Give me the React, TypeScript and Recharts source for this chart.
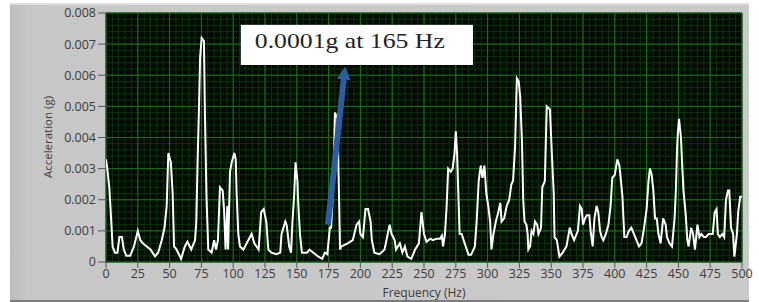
import {
	LineChart,
	Line,
	XAxis,
	YAxis,
	CartesianGrid,
	ReferenceArea,
	ReferenceLine,
} from "recharts";

// Spectrum
const freqHz = [
	0, 1, 2.6, 4, 5.2, 7, 9, 10.5, 12.5, 14, 16, 19, 22, 25, 27, 29, 32, 35, 38.5, 41, 43.8,
	46, 47.7, 49, 51, 52.4, 53.5, 55.5, 59, 62, 64, 67, 70, 71, 72, 73, 74, 75.2, 77, 77.8,
	79, 80.4, 83, 85, 86.5, 88, 89.6, 91.7, 92.8, 94, 95.4, 96, 97.5, 98.8, 100.9, 102,
	102.7, 104, 105.3, 108, 110.6, 114.5, 116.6, 120, 122, 124, 126, 127.6, 130, 134, 137,
	138, 141, 142, 144, 145.5, 146.6, 148, 149, 150.5, 151, 152.5, 154, 158, 160, 163, 167,
	170, 172, 174, 176, 177, 178.7, 180, 182, 183, 184, 185, 190, 194, 197, 199, 200, 202,
	204, 206, 208, 209, 211, 215, 219, 223, 224.5, 227, 228, 231, 233, 235, 237, 240, 243,
	246, 248, 250, 252, 255, 257, 260, 262.6, 264, 265, 266.5, 267.8, 269, 271, 272.5, 274,
	275, 276, 277, 278, 279.6, 282, 285, 287, 290, 291.4, 293, 294.6, 296, 297.5, 299, 300.5,
	302, 303, 304.6, 306.5, 308.4, 310, 311, 313, 315, 317, 318.7, 320, 321.6, 323, 324.5,
	325.6, 327, 328, 329, 330.5, 331.5, 332, 333.4, 334.6, 336, 337.3, 339, 340, 342, 343,
	345, 346.5, 349, 350.5, 352, 352.6, 354.4, 356.5, 359, 362, 364.6, 366, 368, 371, 372.6,
	374, 375, 376.6, 378, 380, 381, 382.6, 384, 385.7, 387, 388.4, 389.7, 391, 393, 395,
	396.7, 398, 400, 402, 403.6, 404.6, 406, 407.5, 409.3, 411, 413, 415, 417, 419, 421, 423,
	425, 426.5, 427.6, 429, 430.3, 431.6, 433, 434.3, 436, 438, 440, 441, 443, 445, 447, 448,
	449, 449.5, 450.5, 452, 453, 454, 455.8, 457, 458, 460, 461.5, 463, 465, 466.5, 468, 470,
	471.6, 473.7, 475, 477, 478.5, 480, 481, 482.6, 484.5, 486, 487.4, 489, 490, 491.4, 493,
	494, 496, 497, 498.6, 500,
];

const accelG = [
	0.0033, 0.003, 0.0024, 0.0014, 0.0005, 0.0003, 0.0003, 0.0008, 0.0008, 0.0004, 0.0002,
	0.0002, 0.0005, 0.001, 0.0007, 0.0006, 0.0005, 0.0004, 0.00018, 0.0003, 0.0007, 0.0011,
	0.0018, 0.0035, 0.0032, 0.0022, 0.0005, 0.0004, 0.0001, 0.0005, 0.00065, 0.0004, 0.0007,
	0.0013, 0.0032, 0.0048, 0.0066, 0.0072, 0.0071, 0.0047, 0.0021, 0.0004, 0.0003, 0.0007,
	0.0004, 0.0007, 0.0024, 0.0023, 0.0017, 0.0004, 0.0018, 0.0004, 0.0029, 0.0032, 0.0035,
	0.0033, 0.0022, 0.0009, 0.0005, 0.0004, 0.0006, 0.0009, 0.0006, 0.0004, 0.0016, 0.0017,
	0.0013, 0.0004, 0.0003, 0.00025, 0.0003, 0.0009, 0.0013, 0.0012, 0.0005, 0.0003, 0.0013,
	0.0022, 0.0032, 0.0026, 0.002, 0.0009, 0.0003, 0.0003, 0.0004, 0.0003, 0.00017, 0.0001,
	0.0003, 0.00025, 0.0011, 0.0011, 0.0025, 0.0048, 0.0046, 0.0025, 0.0004, 0.0005, 0.0006,
	0.0007, 0.0012, 0.0013, 0.0009, 0.0008, 0.0017, 0.0017, 0.0013, 0.0007, 0.0003, 0.00025,
	0.0004, 0.0012, 0.0009, 0.0007, 0.0004, 0.0006, 0.0003, 0.0005, 0.00017, 0.0001, 0.0004,
	0.0006, 0.0016, 0.0009, 0.00065, 0.00075, 0.0007, 0.00075, 0.00075, 0.00085, 0.0005,
	0.0009, 0.0018, 0.003, 0.0029, 0.003, 0.0035, 0.0042, 0.0035, 0.0022, 0.0009, 0.0009,
	0.0006, 0.00023, 0.00023, 0.0005, 0.0013, 0.0026, 0.0031, 0.0027, 0.0031, 0.0022, 0.0018,
	0.0013, 0.0004, 0.0009, 0.0013, 0.0016, 0.0019, 0.0013, 0.0014, 0.0018, 0.002, 0.0025,
	0.0026, 0.0037, 0.0059, 0.0058, 0.0053, 0.0039, 0.002, 0.0013, 0.0012, 0.0009, 0.0004,
	0.0005, 0.001, 0.0009, 0.0013, 0.0012, 0.0009, 0.0011, 0.0024, 0.0026, 0.005, 0.0049,
	0.0035, 0.0022, 0.0008, 0.0007, 0.00017, 0.0003, 0.0005, 0.0011, 0.0009, 0.0007, 0.001,
	0.0018, 0.0017, 0.0012, 0.0014, 0.0015, 0.0015, 0.001, 0.0005, 0.0014, 0.0018, 0.0016,
	0.001, 0.0008, 0.0007, 0.0009, 0.0012, 0.0018, 0.0027, 0.0028, 0.0033, 0.0031, 0.0027,
	0.0021, 0.0008, 0.0008, 0.001, 0.0011, 0.0009, 0.0007, 0.0005, 0.0006, 0.0011, 0.0017,
	0.0026, 0.003, 0.0028, 0.0023, 0.0014, 0.0014, 0.0009, 0.0006, 0.0014, 0.0012, 0.0008,
	0.0006, 0.0005, 0.0014, 0.0023, 0.0037, 0.0041, 0.0046, 0.004, 0.0031, 0.0023, 0.0015,
	0.0007, 0.0005, 0.0011, 0.0009, 0.0004, 0.0012, 0.0008, 0.0009, 0.0008, 0.0008, 0.0009,
	0.0009, 0.0009, 0.0016, 0.0017, 0.0009, 0.0008, 0.0009, 0.0008, 0.002, 0.0023, 0.0023,
	0.0011, 0.0009, 0.00017, 0.0009, 0.0016, 0.0021, 0.0021,
];

const freqTicks = [0, 25, 50, 75, 100, 125, 150, 175, 200, 225, 250, 275, 300, 325, 350, 375, 400, 425, 450, 475, 500];
const accelTicks = [0, 0.001, 0.002, 0.003, 0.004, 0.005, 0.006, 0.007, 0.008];

// annotation
const noteText = "0.0001g at 165 Hz";
const noteBox = { x1: 106, x2: 288.5, y1: 0.00633, y2: 0.00762 };
const noteArrow = [
	{ x: 174.5, y: 0.0012 },
	{ x: 188, y: 0.00628 },
];

const data = freqHz.map((f, i) => ({ f, a: accelG[i] }));

// minor grid: 5 per major division
const minorX: number[] = [];
for (let i = 0; i <= 100; i++) minorX.push(i * 5);
const minorY: number[] = [];
for (let i = 0; i <= 40; i++) minorY.push(+(i * 0.0002).toFixed(4));

const FONT = "'Open Sans', sans-serif";

const Arrow = (props: any) => {
	const { x1, y1, x2, y2 } = props;
	const dx = x2 - x1;
	const dy = y2 - y1;
	const len = Math.hypot(dx, dy) || 1;
	const ux = dx / len;
	const uy = dy / len;
	const px = -uy;
	const py = ux;
	const hw = 3;
	const headW = 7;
	const headL = 13;
	const bx = x2 - ux * headL;
	const by = y2 - uy * headL;
	const pts = [
		[x1 + px * hw, y1 + py * hw],
		[bx + px * hw, by + py * hw],
		[bx + px * headW, by + py * headW],
		[x2, y2],
		[bx - px * headW, by - py * headW],
		[bx - px * hw, by - py * hw],
		[x1 - px * hw, y1 - py * hw],
	]
		.map((p) => p.join(","))
		.join(" ");
	return <polygon points={pts} fill="#2d5d9f" />;
};

const NoteBox = (props: any) => {
	const { x, y, width, height } = props;
	return (
		<g>
			<rect x={x} y={y} width={width} height={height} fill="#ffffff" />
			<text
				x={x + 14}
				y={y + 23.5}
				fontFamily="'Liberation Serif', 'Times New Roman', serif"
				fontSize={21}
				fill="#222"
				textLength={190}
				lengthAdjust="spacingAndGlyphs"
			>
				{noteText}
			</text>
		</g>
	);
};

const App = () => {
	return (
		<div
			style={{
				position: "absolute",
				left: 0,
				top: 0,
				width: 759,
				height: 302,
				background: "#ffffff",
				overflow: "hidden",
			}}
		>
			<div
				style={{
					position: "absolute",
					left: 10,
					top: 3,
					width: 739,
					height: 295,
					background: "linear-gradient(90deg, #bcbcbc 0px, #c7c7c7 18px, #cacaca 100%)",
					borderTop: "2px solid #dedede",
					borderBottom: "2px solid #7c7c7c",
				}}
			></div>
			<div style={{ position: "absolute", left: 0, top: 0 }}>
				<LineChart
					width={759}
					height={302}
					data={data}
					margin={{ top: 13, right: 17, bottom: 0, left: 46 }}
				>
					<CartesianGrid
						fill="#020802"
						stroke="#0a360a"
						strokeWidth={1}
						verticalValues={minorX}
						horizontalValues={minorY}
					/>
					<CartesianGrid stroke="#177517" strokeWidth={1} />
					<XAxis
						dataKey="f"
						type="number"
						domain={[0, 500]}
						ticks={freqTicks}
						interval={0}
						allowDataOverflow
						height={40}
						axisLine={false}
						tickLine={{ stroke: "#555" }}
						tickSize={6}
						tickMargin={1}
						tick={{ fill: "#3c3c3c", fontSize: 12.5, fontFamily: FONT }}
						label={{
							content: () => (
								<text x={424} y={297} textAnchor="middle" fill="#3c3c3c" fontSize={12} fontFamily={FONT}>
									Frequency (Hz)
								</text>
							),
						}}
					/>
					<YAxis
						type="number"
						domain={[0, 0.008]}
						ticks={accelTicks}
						interval={0}
						allowDataOverflow
						width={60}
						axisLine={false}
						tickLine={{ stroke: "#555" }}
						tickSize={8}
						tickMargin={2}
						tickFormatter={(v: number) => (v === 0 ? "0" : v.toFixed(3))}
						tick={{ fill: "#3c3c3c", fontSize: 12.5, fontFamily: FONT }}
						label={{
							content: () => (
								<text
									x={52}
									y={137}
									transform="rotate(-90 52 137)"
									textAnchor="middle"
									fill="#3c3c3c"
									fontSize={11.5}
									fontFamily={FONT}
								>
									Acceleration (g)
								</text>
							),
						}}
					/>
					<Line
						type="linear"
						dataKey="a"
						stroke="#ffffff"
						strokeWidth={2}
						dot={false}
						isAnimationActive={false}
					/>
					<ReferenceArea
						x1={noteBox.x1}
						x2={noteBox.x2}
						y1={noteBox.y1}
						y2={noteBox.y2}
						shape={<NoteBox />}
						ifOverflow="visible"
					/>
					<ReferenceLine segment={noteArrow} shape={<Arrow />} ifOverflow="visible" />
				</LineChart>
			</div>
		</div>
	);
};

export default App;
